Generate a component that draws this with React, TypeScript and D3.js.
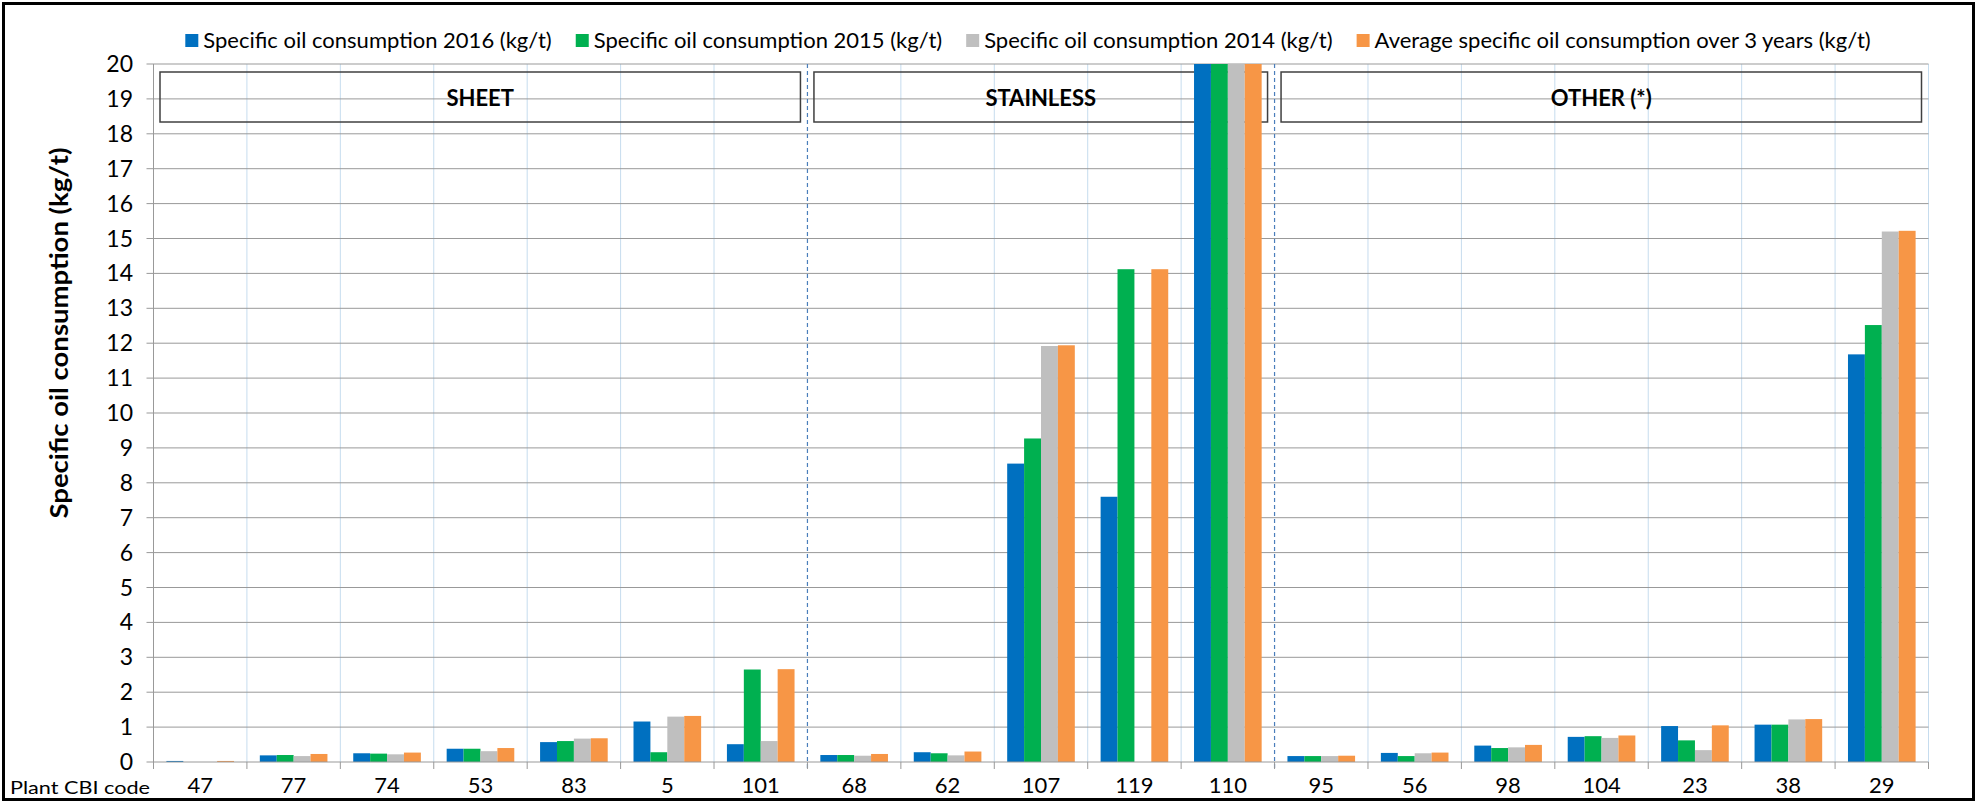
import React, { useEffect, useRef } from "react";
import * as d3 from "d3";

const categories = ["47", "77", "74", "53", "83", "5", "101", "68", "62", "107", "119", "110", "95", "56", "98", "104", "23", "38", "29"];
const seriesNames = [
  "Specific oil consumption 2016 (kg/t)",
  "Specific oil consumption 2015 (kg/t)",
  "Specific oil consumption 2014 (kg/t)",
  "Average specific oil consumption over 3 years (kg/t)",
];
const seriesColors = ["#0070C0", "#00B050", "#BFBFBF", "#F79646"];
const values2016 = [0.03, 0.19, 0.25, 0.38, 0.57, 1.16, 0.51, 0.2, 0.28, 8.55, 7.6, 22, 0.17, 0.26, 0.47, 0.72, 1.03, 1.07, 11.68];
const values2015 = [0, 0.2, 0.24, 0.38, 0.6, 0.28, 2.65, 0.2, 0.25, 9.27, 14.12, 22, 0.17, 0.17, 0.4, 0.74, 0.62, 1.07, 12.52];
const values2014 = [0, 0.17, 0.22, 0.31, 0.67, 1.3, 0.6, 0.18, 0.19, 11.92, 0, 22, 0.17, 0.25, 0.42, 0.69, 0.34, 1.22, 15.2];
const valuesAvg = [0.03, 0.23, 0.27, 0.4, 0.68, 1.32, 2.66, 0.23, 0.3, 11.94, 14.12, 22, 0.18, 0.27, 0.49, 0.76, 1.05, 1.23, 15.22];
const yTicks = d3.range(0, 21);
const groups = [
  { name: "SHEET", from: 0, to: 7 },
  { name: "STAINLESS", from: 7, to: 12 },
  { name: "OTHER (*)", from: 12, to: 19 },
];
const dashedBoundaries = [7, 12];

const W = 1977;
const H = 803;
const FONT = "Lato, 'Open Sans', sans-serif";

export default function App() {
  const ref = useRef<SVGSVGElement | null>(null);

  useEffect(() => {
    const svg = d3.select(ref.current);
    svg.selectAll("*").remove();

    const left = 153.5, right = 1928.5, top = 64, bottom = 762;
    const x = d3.scaleBand<string>().domain(categories).range([left, right]).paddingInner(0).paddingOuter(0);
    const xs = d3.scaleBand<number>().domain([0, 1, 2, 3]).range([0, x.bandwidth()]).paddingInner(0).paddingOuter(0.763);
    const y = d3.scaleLinear().domain([0, 20]).range([bottom, top]);
    const step = x.step();
    const bx = (i: number) => left + i * step;

    // border
    svg.append("rect").attr("x", 3.5).attr("y", 3.5).attr("width", W - 7).attr("height", H - 7)
      .attr("fill", "white").attr("stroke", "#000").attr("stroke-width", 3);

    const clip = svg.append("defs").append("clipPath").attr("id", "plotclip");
    clip.append("rect").attr("x", left).attr("y", top).attr("width", right - left).attr("height", bottom - top);

    // vertical gridlines
    for (let i = 1; i <= categories.length; i++) {
      if (dashedBoundaries.includes(i)) continue;
      svg.append("line").attr("x1", bx(i)).attr("x2", bx(i)).attr("y1", top).attr("y2", bottom)
        .attr("stroke", "#C6DCEE").attr("stroke-width", 1);
    }
    // horizontal gridlines
    yTicks.forEach((t) => {
      if (t === 0) return;
      svg.append("line").attr("x1", left - 7).attr("x2", right).attr("y1", y(t)).attr("y2", y(t))
        .attr("stroke", "#999999").attr("stroke-width", 1);
    });
    // dashed separators
    dashedBoundaries.forEach((i) => {
      svg.append("line").attr("x1", bx(i)).attr("x2", bx(i)).attr("y1", top).attr("y2", bottom + 7)
        .attr("stroke", "#4A7EBB").attr("stroke-width", 1.2).attr("stroke-dasharray", "4,3");
    });

    // group boxes
    groups.forEach((g) => {
      const x0 = bx(g.from) + 6.5;
      const x1 = bx(g.to) - 7;
      svg.append("rect").attr("x", x0).attr("y", 72).attr("width", x1 - x0).attr("height", 50)
        .attr("fill", "none").attr("stroke", "#404040").attr("stroke-width", 1.5);
      svg.append("text").attr("x", (x0 + x1) / 2).attr("y", 98).attr("dy", "0.35em")
        .attr("text-anchor", "middle").attr("font-family", FONT).attr("font-weight", "bold")
        .attr("font-size", 22).attr("fill", "#000").text(g.name);
    });

    // bars
    const allSeries = [values2016, values2015, values2014, valuesAvg];
    const barsG = svg.append("g").attr("clip-path", "url(#plotclip)");
    categories.forEach((c, ci) => {
      allSeries.forEach((vals, si) => {
        const v = vals[ci];
        if (v <= 0) return;
        barsG.append("rect")
          .attr("x", (x(c) as number) + (xs(si) as number))
          .attr("width", xs.bandwidth())
          .attr("y", y(v))
          .attr("height", y(0) - y(v))
          .attr("fill", seriesColors[si]);
      });
    });

    // axes lines
    svg.append("line").attr("x1", left).attr("x2", left).attr("y1", top).attr("y2", bottom)
      .attr("stroke", "#999999").attr("stroke-width", 1);
    svg.append("line").attr("x1", left - 7).attr("x2", right).attr("y1", bottom).attr("y2", bottom)
      .attr("stroke", "#999999").attr("stroke-width", 1);
    for (let i = 0; i <= categories.length; i++) {
      svg.append("line").attr("x1", bx(i)).attr("x2", bx(i)).attr("y1", bottom).attr("y2", bottom + 7)
        .attr("stroke", "#999999").attr("stroke-width", 1);
    }

    // y tick labels
    yTicks.forEach((t) => {
      svg.append("text").attr("x", 133).attr("y", y(t)).attr("dy", "0.35em").attr("text-anchor", "end")
        .attr("font-family", FONT).attr("font-size", 23).attr("fill", "#000").text(String(t));
    });
    // x labels
    categories.forEach((c) => {
      svg.append("text").attr("x", (x(c) as number) + x.bandwidth() / 2).attr("y", 793)
        .attr("text-anchor", "middle").attr("font-family", FONT).attr("font-size", 22).attr("fill", "#000").text(c);
    });
    svg.append("text").attr("x", 150).attr("y", 794).attr("text-anchor", "end")
      .attr("font-family", FONT).attr("font-size", 17).attr("textLength", 140).attr("lengthAdjust", "spacingAndGlyphs")
      .attr("fill", "#000").text("Plant CBI code");

    // y title
    svg.append("text").attr("transform", "translate(60,333) rotate(-90)").attr("text-anchor", "middle")
      .attr("dy", "0.35em").attr("font-family", FONT).attr("font-weight", "bold").attr("font-size", 24)
      .attr("textLength", 371).attr("lengthAdjust", "spacingAndGlyphs")
      .attr("fill", "#000").text("Specific oil consumption (kg/t)");

    // legend
    const lg = svg.append("g");
    const items: { g: any; w: number }[] = [];
    seriesNames.forEach((name, i) => {
      const g = lg.append("g");
      g.append("rect").attr("x", 0).attr("y", -14).attr("width", 13).attr("height", 13).attr("fill", seriesColors[i]);
      const t = g.append("text").attr("x", 18).attr("y", 0).attr("font-family", FONT).attr("font-size", 22)
        .attr("fill", "#000").text(name);
      const tw = (t.node() as SVGTextElement).getComputedTextLength();
      items.push({ g, w: 18 + tw });
    });
    const gap = 24;
    const total = d3.sum(items, (d) => d.w) + gap * (items.length - 1);
    let cx = 1028 - total / 2;
    items.forEach((it) => {
      it.g.attr("transform", `translate(${cx},48)`);
      cx += it.w + gap;
    });
  }, []);

  return (
    <svg ref={ref} width={W} height={H} style={{ position: "absolute", left: 0, top: 0, display: "block" }} />
  );
}
